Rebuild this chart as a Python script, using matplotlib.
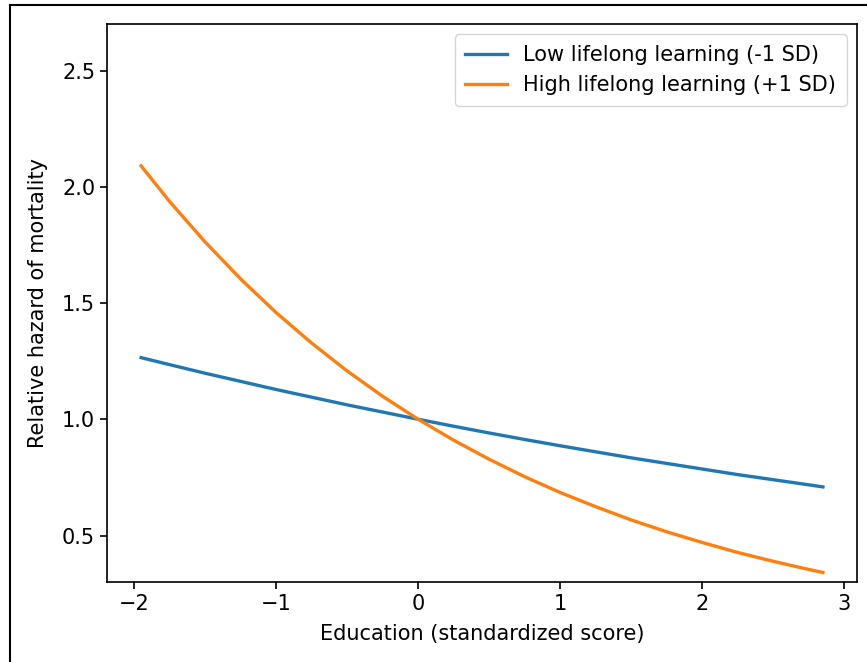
import numpy as np
import matplotlib.pyplot as plt
from matplotlib.lines import Line2D

# values
education = [-1.95, -1.75, -1.5, -1.25, -1.0, -0.75, -0.5, -0.25, 0.0, 0.25, 0.5,
             0.75, 1.0, 1.25, 1.5, 1.75, 2.0, 2.25, 2.5, 2.75, 2.85]
low_learning = [1.265, 1.235, 1.198, 1.163, 1.128, 1.095, 1.062, 1.031, 1.0, 0.970, 0.941,
                0.913, 0.886, 0.860, 0.834, 0.810, 0.786, 0.762, 0.740, 0.718, 0.709]
high_learning = [2.090, 1.937, 1.763, 1.604, 1.459, 1.328, 1.208, 1.099, 1.0, 0.910, 0.828,
                 0.753, 0.685, 0.624, 0.567, 0.516, 0.470, 0.427, 0.389, 0.354, 0.341]

labels = ["Low lifelong learning (-1 SD)", "High lifelong learning (+1 SD)"]

plt.rcParams['font.size'] = 15

fig = plt.figure(figsize=(8.67, 6.62), dpi=100)
ax = fig.add_axes([107 / 867, 1 - 582 / 662, 750 / 867, 558 / 662])

ax.plot(education, low_learning, color="#1f77b4", lw=2.4, label=labels[0])
ax.plot(education, high_learning, color="#ff7f0e", lw=2.4, label=labels[1])

ax.set_ylim(0.3, 2.7)
ax.set_yticks([0.5, 1.0, 1.5, 2.0, 2.5])
ax.set_xticks([-2, -1, 0, 1, 2, 3])
ax.set_xlabel("Education (standardized score)", labelpad=7)
ax.set_ylabel("Relative hazard of mortality", labelpad=10)
ax.tick_params(length=5, width=1.2)
for s in ax.spines.values():
    s.set_linewidth(1.2)
ax.legend(loc="upper right", borderpad=0.5)

# outer frame (left and top edges only)
fig.add_artist(Line2D([10 / 867, 10 / 867], [0, 1 - 5 / 662], color="black", lw=1.5,
                      transform=fig.transFigure))
fig.add_artist(Line2D([10 / 867, 1], [1 - 5 / 662, 1 - 5 / 662], color="black", lw=1.5,
                      transform=fig.transFigure))

fig.savefig("out.png", dpi=100)
